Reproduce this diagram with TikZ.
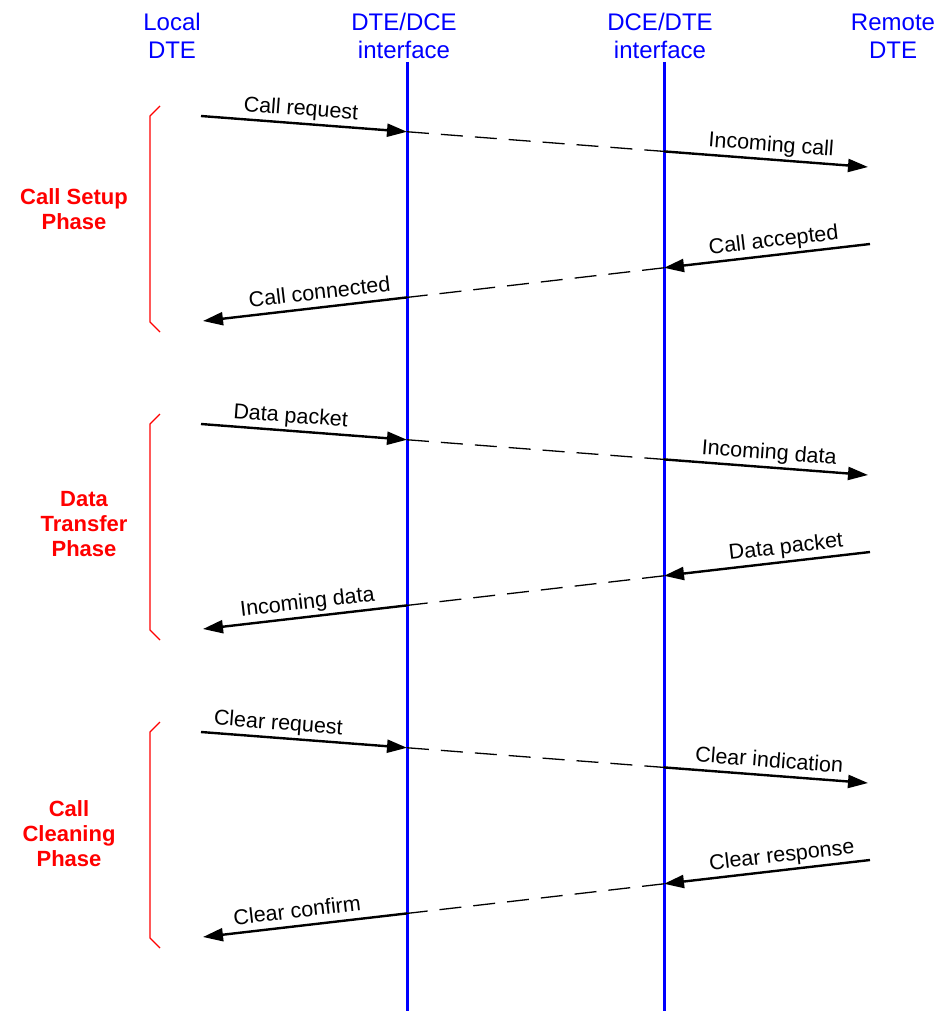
\documentclass[tikz,border=0pt]{standalone}
\usepackage{fontspec}
\setmainfont{Liberation Sans}
\usetikzlibrary{arrows.meta}
\definecolor{lineblue}{RGB}{0,0,255}
\definecolor{phasered}{RGB}{255,0,0}
\begin{document}
\begin{tikzpicture}[x=1pt,y=-1pt,
  msg/.style={line width=2.4pt, -{Triangle[length=20pt,width=13pt]}},
  relay/.style={line width=1.3pt, dash pattern=on 22pt off 12pt},
  lbl/.style={sloped, above=7pt, inner sep=0pt, text depth=0pt,
              font=\fontsize{21.5}{24}\selectfont},
  head/.style={text=lineblue, align=center, inner sep=0pt,
               font=\fontsize{24}{28}\selectfont},
  phase/.style={text=phasered, align=center, inner sep=0pt,
                font=\fontsize{22}{25}\selectfont\bfseries},
  brace/.style={draw=phasered, line width=1.3pt},
  iface/.style={draw=lineblue, line width=3pt}]
\useasboundingbox (0,0) rectangle (939,1011);

% column headings (anchored on the baseline of their second line)
\node[head, anchor=base] (hlocal)  at (172,59) {Local\\DTE};
\node[head, anchor=base] (hdtedce) at (404,59) {DTE/DCE\\interface};
\node[head, anchor=base] (hdcedte) at (660,59) {DCE/DTE\\interface};
\node[head, anchor=base] (hremote) at (893,59) {Remote\\DTE};

% the two interface lines
\coordinate (ifA-top) at (407,62);
\coordinate (ifA-bot) at (407,1011);
\coordinate (ifB-top) at (664,62);
\coordinate (ifB-bot) at (664,1011);
\draw[iface] (ifA-top) -- (ifA-bot);
\draw[iface] (ifB-top) -- (ifB-bot);

% one block per phase: request crossing the network, answer coming back
\foreach \g/\off/\ta/\pa/\tb/\pb/\tc/\pc/\td/\pd/\ph/\phx/\phy in {
  1/0/{Call request}/0.48/{Incoming call}/0.52/{Call accepted}/0.46/{Call connected}/0.42/{Call Setup\\Phase}/74/209,
  2/308/{Data packet}/0.43/{Incoming data}/0.51/{Data packet}/0.40/{Incoming data}/0.48/{Data\\Transfer\\Phase}/84/524,
  3/616/{Clear request}/0.37/{Clear indication}/0.51/{Clear response}/0.42/{Clear confirm}/0.53/{Call\\Cleaning\\Phase}/69/834}
{
  % outgoing message, left to right
  \coordinate (f\g-s) at (201,{116+\off});
  \coordinate (f\g-a) at (407,{131.75+\off});
  \coordinate (f\g-b) at (664,{151.4+\off});
  \coordinate (f\g-e) at (868,{167+\off});
  \draw[msg] (f\g-s) -- node[lbl, pos=\pa] (f\g-l1) {\ta} (f\g-a);
  \draw[relay] (f\g-a) -- (f\g-b);
  \draw[msg] (f\g-b) -- node[lbl, pos=\pb] (f\g-l2) {\tb} (f\g-e);
  % returning message, right to left
  \coordinate (r\g-s) at (870,{244+\off});
  \coordinate (r\g-b) at (664,{267.8+\off});
  \coordinate (r\g-a) at (407,{297.4+\off});
  \coordinate (r\g-e) at (203,{321+\off});
  \draw[msg] (r\g-s) -- node[lbl, pos=\pc] (r\g-l1) {\tc} (r\g-b);
  \draw[relay] (r\g-b) -- (r\g-a);
  \draw[msg] (r\g-a) -- node[lbl, pos=\pd] (r\g-l2) {\td} (r\g-e);
  % phase bracket and its name
  \draw[brace] (160,{106+\off}) -- (150,{116+\off}) -- (150,{322+\off}) -- (160,{332+\off});
  \node[phase] (ph\g) at (\phx,\phy) {\ph};
}
\end{tikzpicture}
\end{document}
